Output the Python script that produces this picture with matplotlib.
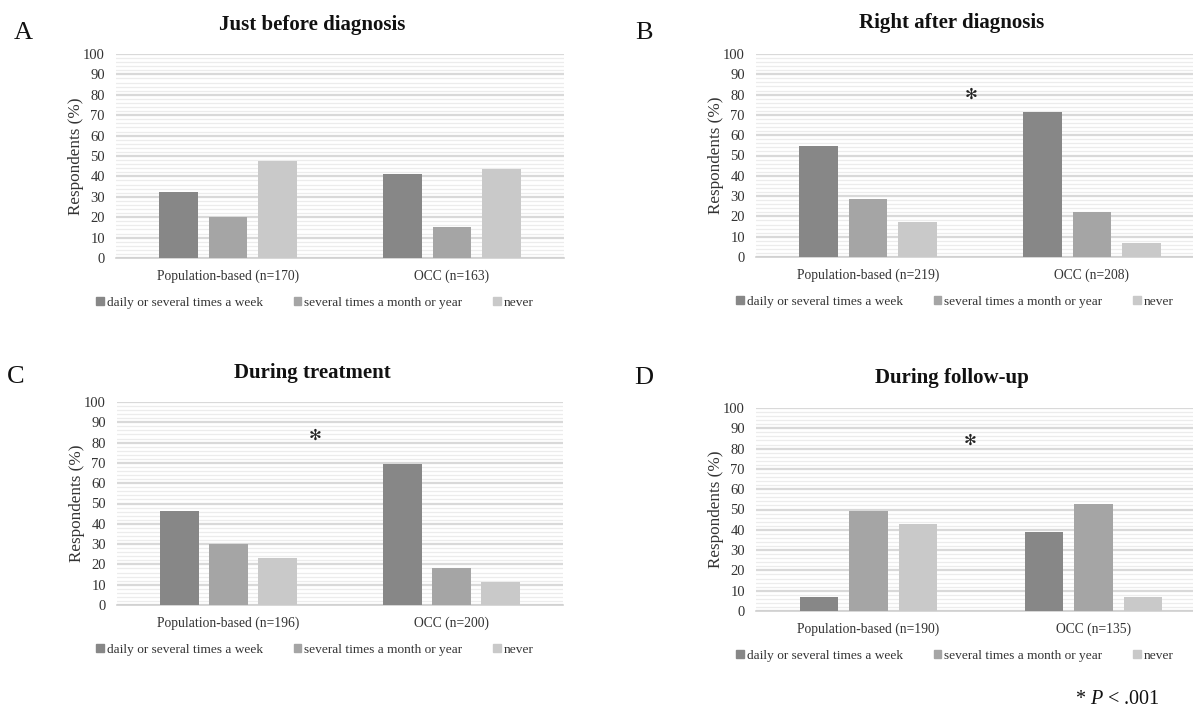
import numpy as np
import matplotlib
matplotlib.use("Agg")
import matplotlib.pyplot as plt
from matplotlib.patches import Patch

plt.rcParams['font.family'] = ['Liberation Serif', 'DejaVu Sans']
plt.rcParams['mathtext.fontset'] = 'custom'
plt.rcParams['mathtext.rm'] = 'Liberation Serif'
plt.rcParams['mathtext.it'] = 'Liberation Serif:italic'

# data (percent of respondents)
freq_labels = ["daily or several times a week", "several times a month or year", "never"]
freq_colors = ["#878787", "#a5a5a5", "#c9c9c9"]

titles = ["Just before diagnosis", "Right after diagnosis", "During treatment", "During follow-up"]
panel_letters = ["A", "B", "C", "D"]

groups_A = ["Population-based (n=170)", "OCC (n=163)"]
daily_A = [32.5, 41.2]
monthly_A = [20.1, 15.2]
never_A = [47.6, 43.6]

groups_B = ["Population-based (n=219)", "OCC (n=208)"]
daily_B = [54.5, 71.6]
monthly_B = [28.4, 22.0]
never_B = [17.4, 6.8]

groups_C = ["Population-based (n=196)", "OCC (n=200)"]
daily_C = [46.1, 69.7]
monthly_C = [30.0, 18.0]
never_C = [23.3, 11.3]

groups_D = ["Population-based (n=190)", "OCC (n=135)"]
daily_D = [6.9, 38.9]
monthly_D = [49.4, 52.9]
never_D = [43.0, 6.9]

# significance marks (None = no mark): x in category units, y in %
star_x = [None, 0.46, 0.39, 0.45]
star_y = [None, 80.3, 83.7, 83.9]

W, H = 1193, 707
fig = plt.figure(figsize=(W / 100, H / 100), dpi=100)

def px_axes(left, top, width, height):
    return fig.add_axes([left / W, 1 - (top + height) / H, width / W, height / H])

# pixel layout: axes box, title centre, letter centre, legend centre x
layout = [
    dict(ax=(116, 54, 448, 204), title=(312, 25), letter=(23, 33), leg=315),
    dict(ax=(756, 54, 448, 203), title=(952, 23), letter=(644, 33), leg=955),
    dict(ax=(117, 402, 446, 203), title=(312, 373), letter=(16, 377), leg=315),
    dict(ax=(756, 408, 450, 203), title=(952, 378), letter=(644, 378), leg=955),
]

panels = [
    (groups_A, [daily_A, monthly_A, never_A]),
    (groups_B, [daily_B, monthly_B, never_B]),
    (groups_C, [daily_C, monthly_C, never_C]),
    (groups_D, [daily_D, monthly_D, never_D]),
]

x = np.arange(2)
bar_w = 0.172
step = 0.22
txt_col = '#333333'

for i, (groups, series) in enumerate(panels):
    lay = layout[i]
    ax = px_axes(*lay["ax"])
    for j, vals in enumerate(series):
        ax.bar(x + (j - 1) * step, vals, width=bar_w, color=freq_colors[j], zorder=3)

    ax.set_xlim(-0.5, 1.5)
    ax.set_ylim(0, 100)
    ax.set_yticks(np.arange(0, 101, 10))
    ax.set_yticks(np.arange(0, 101, 2), minor=True)
    ax.grid(axis='y', which='major', color='#d9d9d9', linewidth=1.6, zorder=0)
    ax.grid(axis='y', which='minor', color='#ececec', linewidth=0.9, zorder=0)
    ax.set_xticks(x)
    ax.set_xticklabels(groups, fontsize=9.8, color=txt_col)
    ax.tick_params(axis='both', which='both', length=0, colors=txt_col)
    ax.tick_params(axis='y', labelsize=10.5, pad=8)
    ax.tick_params(axis='x', pad=8)
    for s in ['top', 'right', 'left']:
        ax.spines[s].set_visible(False)
    ax.spines['bottom'].set_color('#d0d0d0')
    ax.spines['bottom'].set_linewidth(1.2)
    ax.set_ylabel("Respondents (%)", fontsize=12.3, color=txt_col, labelpad=-1)

    if star_x[i] is not None:
        ax.text(star_x[i], star_y[i], "\u273b", ha='center', va='center',
                fontsize=11, family='DejaVu Sans', fontweight='bold',
                color='#222222', zorder=4)

    handles = [Patch(color=c) for c in freq_colors]
    lx = lay["leg"] / W
    ly = 1 - (lay["ax"][1] + lay["ax"][3] + 45) / H
    fl = fig.legend(handles, freq_labels, loc='center', ncol=3, bbox_to_anchor=(lx, ly),
                    frameon=False, fontsize=9.6, handlelength=0.55, handleheight=0.55,
                    handletextpad=0.25, columnspacing=2.3)
    for t in fl.get_texts():
        t.set_color(txt_col)

    tx, ty = lay["title"]
    fig.text(tx / W, 1 - ty / H, titles[i], ha='center', va='center',
             fontsize=15, fontweight='bold', color='#111111')
    lx2, ly2 = lay["letter"]
    fig.text(lx2 / W, 1 - ly2 / H, panel_letters[i], ha='center', va='center',
             fontsize=19, color='#111111')

fig.text(1075 / W, 1 - 699 / H, r"* $P$ < .001", ha='left', va='center',
         fontsize=14.5, color='#111111')

fig.savefig("out.png", dpi=100)
